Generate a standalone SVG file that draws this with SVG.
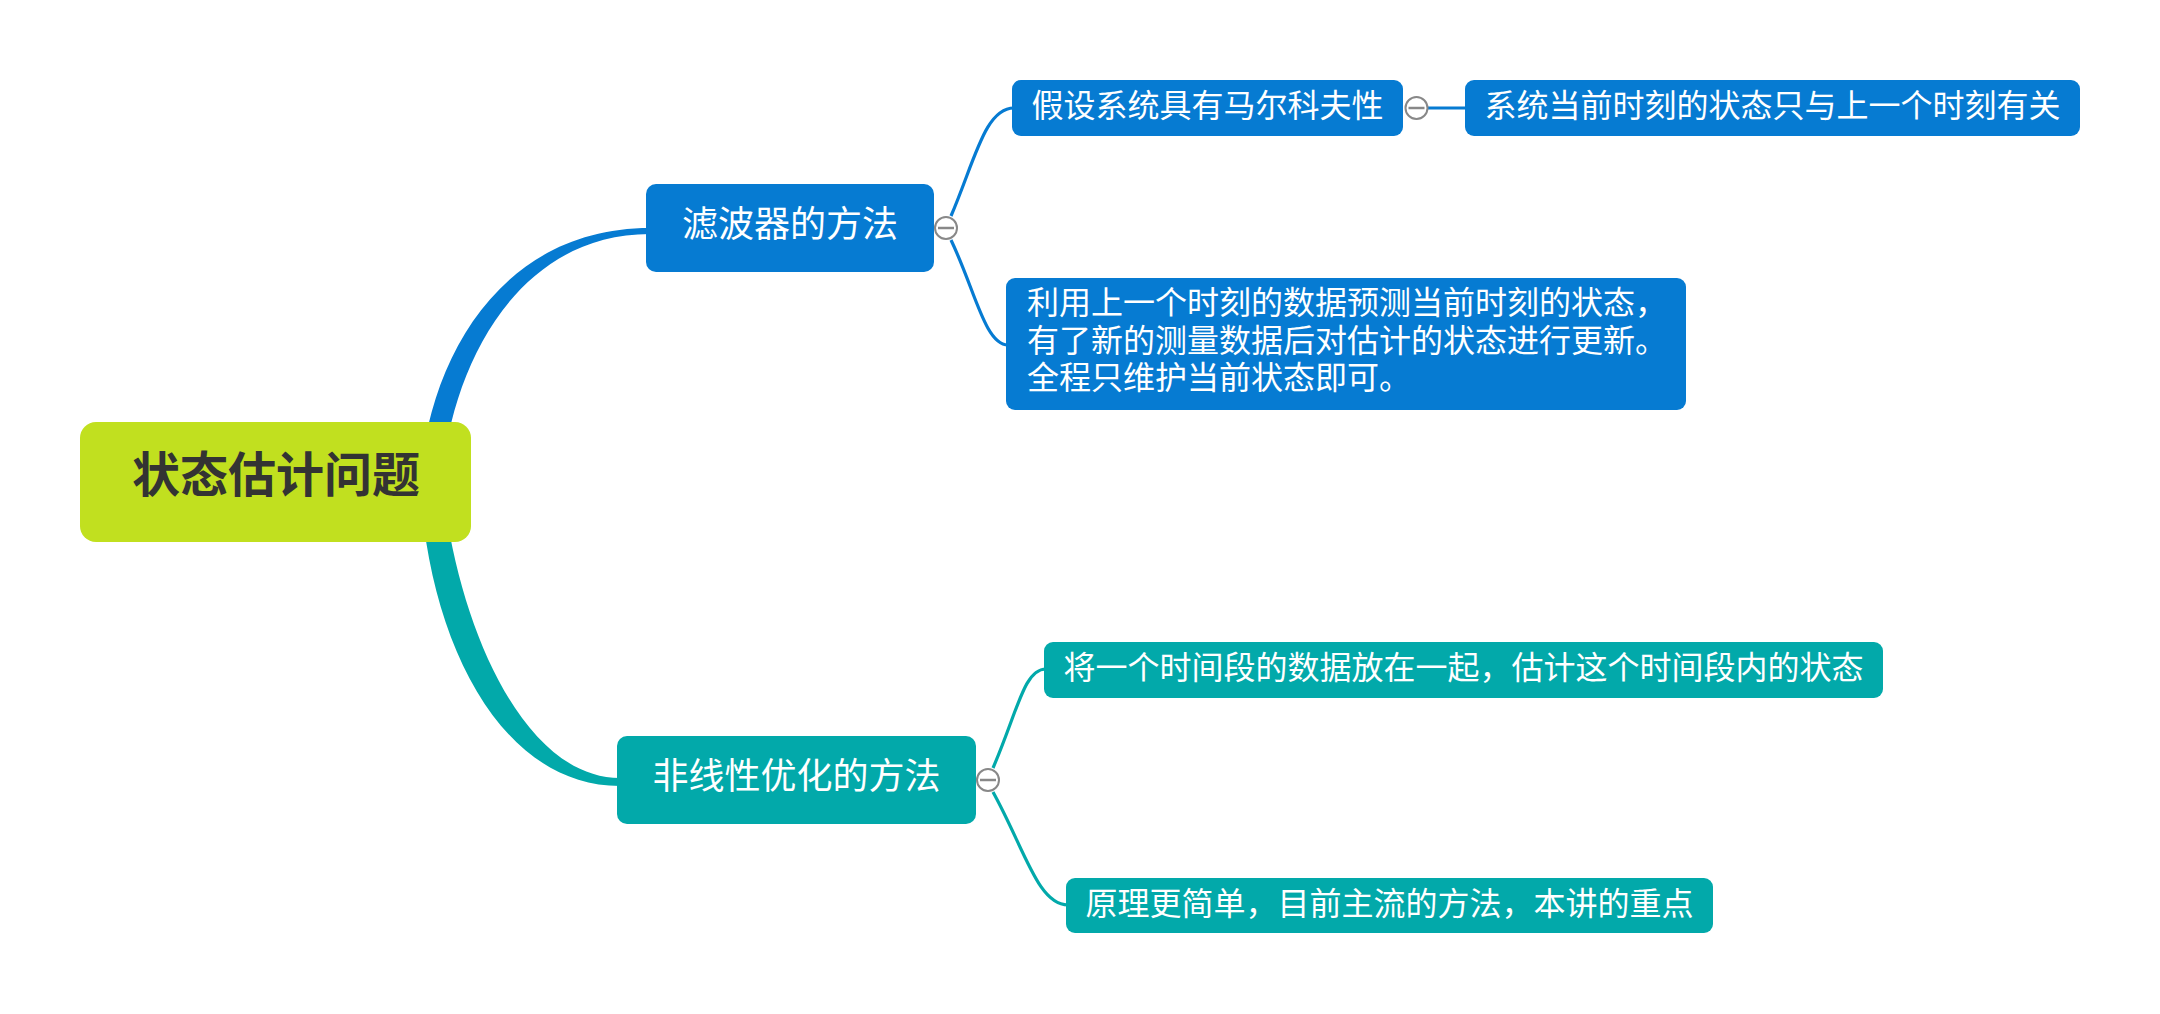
<svg xmlns="http://www.w3.org/2000/svg" width="2160" height="1014" viewBox="0 0 2160 1014">
<style>
.txt{font-family:"Noto Sans CJK SC","Noto Sans",sans-serif;fill:#ffffff}
.root{font-family:"Noto Sans CJK SC","Noto Sans",sans-serif;fill:#333333;font-weight:bold;font-size:48px}
.blue{fill:#067BD2}
.teal{fill:#02A9AA}
.lb{fill:none;stroke:#067BD2;stroke-width:3.2}
.lt{fill:none;stroke:#02A9AA;stroke-width:3.2}
.tog circle{fill:#ffffff;stroke:#888888;stroke-width:2}
.tog line{stroke:#888888;stroke-width:2.5}
</style>
<rect width="2160" height="1014" fill="#ffffff"/>
<g id="connectors">
<path class="blue" d="M 420 482 C 428 360, 500 228, 650 228 L 650 234 C 515 234, 450 370, 442 482 Z"/>
<path class="teal" d="M 420 482 C 428 640, 500 786, 620 786 L 620 778 C 525 778, 458 630, 442 482 Z"/>
<path class="lb" d="M 951 216 C 975 160, 985 108, 1014 108"/>
<path class="lb" d="M 951 240 C 975 290, 985 345, 1008 345"/>
<path class="lb" d="M 1428 108 L 1467 108"/>
<path class="lt" d="M 993 768 C 1018 710, 1024 669, 1046 669"/>
<path class="lt" d="M 993 792 C 1025 850, 1038 905, 1068 905"/>
</g>
<g id="root">
<rect x="80" y="422" width="391" height="120" rx="16" fill="#C1E01F"/>
<text class="root" x="276" y="492" text-anchor="middle">状态估计问题</text>
</g>
<g id="filter">
<rect class="blue" x="646" y="184" width="288" height="88" rx="10"/>
<text class="txt" x="790" y="237" font-size="36" text-anchor="middle">滤波器的方法</text>
</g>
<g id="filter-toggle" class="tog">
<circle cx="946" cy="228" r="11"/>
<line x1="938" y1="228" x2="954" y2="228"/>
</g>
<g id="markov">
<rect class="blue" x="1012" y="80" width="391" height="56" rx="9"/>
<text class="txt" x="1207.5" y="117" font-size="32" text-anchor="middle">假设系统具有马尔科夫性</text>
</g>
<g id="markov-toggle" class="tog">
<circle cx="1416.5" cy="108" r="11"/>
<line x1="1408.5" y1="108" x2="1424.5" y2="108"/>
</g>
<g id="markov-detail">
<rect class="blue" x="1465" y="80" width="615" height="56" rx="9"/>
<text class="txt" x="1772.5" y="117" font-size="32" text-anchor="middle">系统当前时刻的状态只与上一个时刻有关</text>
</g>
<g id="filter-detail">
<rect class="blue" x="1006" y="278" width="680" height="132" rx="9"/>
<text class="txt" font-size="32"><tspan x="1027" y="314">利用上一个时刻的数据预测当前时刻的状态，</tspan><tspan x="1027" y="352">有了新的测量数据后对估计的状态进行更新。</tspan><tspan x="1027" y="389">全程只维护当前状态即可。</tspan></text>
</g>
<g id="nonlinear">
<rect class="teal" x="617" y="736" width="359" height="88" rx="10"/>
<text class="txt" x="796.5" y="789" font-size="36" text-anchor="middle">非线性优化的方法</text>
</g>
<g id="nonlinear-toggle" class="tog">
<circle cx="988" cy="780" r="11"/>
<line x1="980" y1="780" x2="996" y2="780"/>
</g>
<g id="batch">
<rect class="teal" x="1044" y="642" width="839" height="56" rx="9"/>
<text class="txt" x="1463.5" y="679" font-size="32" text-anchor="middle">将一个时间段的数据放在一起，估计这个时间段内的状态</text>
</g>
<g id="mainstream">
<rect class="teal" x="1066" y="878" width="647" height="55" rx="9"/>
<text class="txt" x="1389.5" y="915" font-size="32" text-anchor="middle">原理更简单，目前主流的方法，本讲的重点</text>
</g>
</svg>
